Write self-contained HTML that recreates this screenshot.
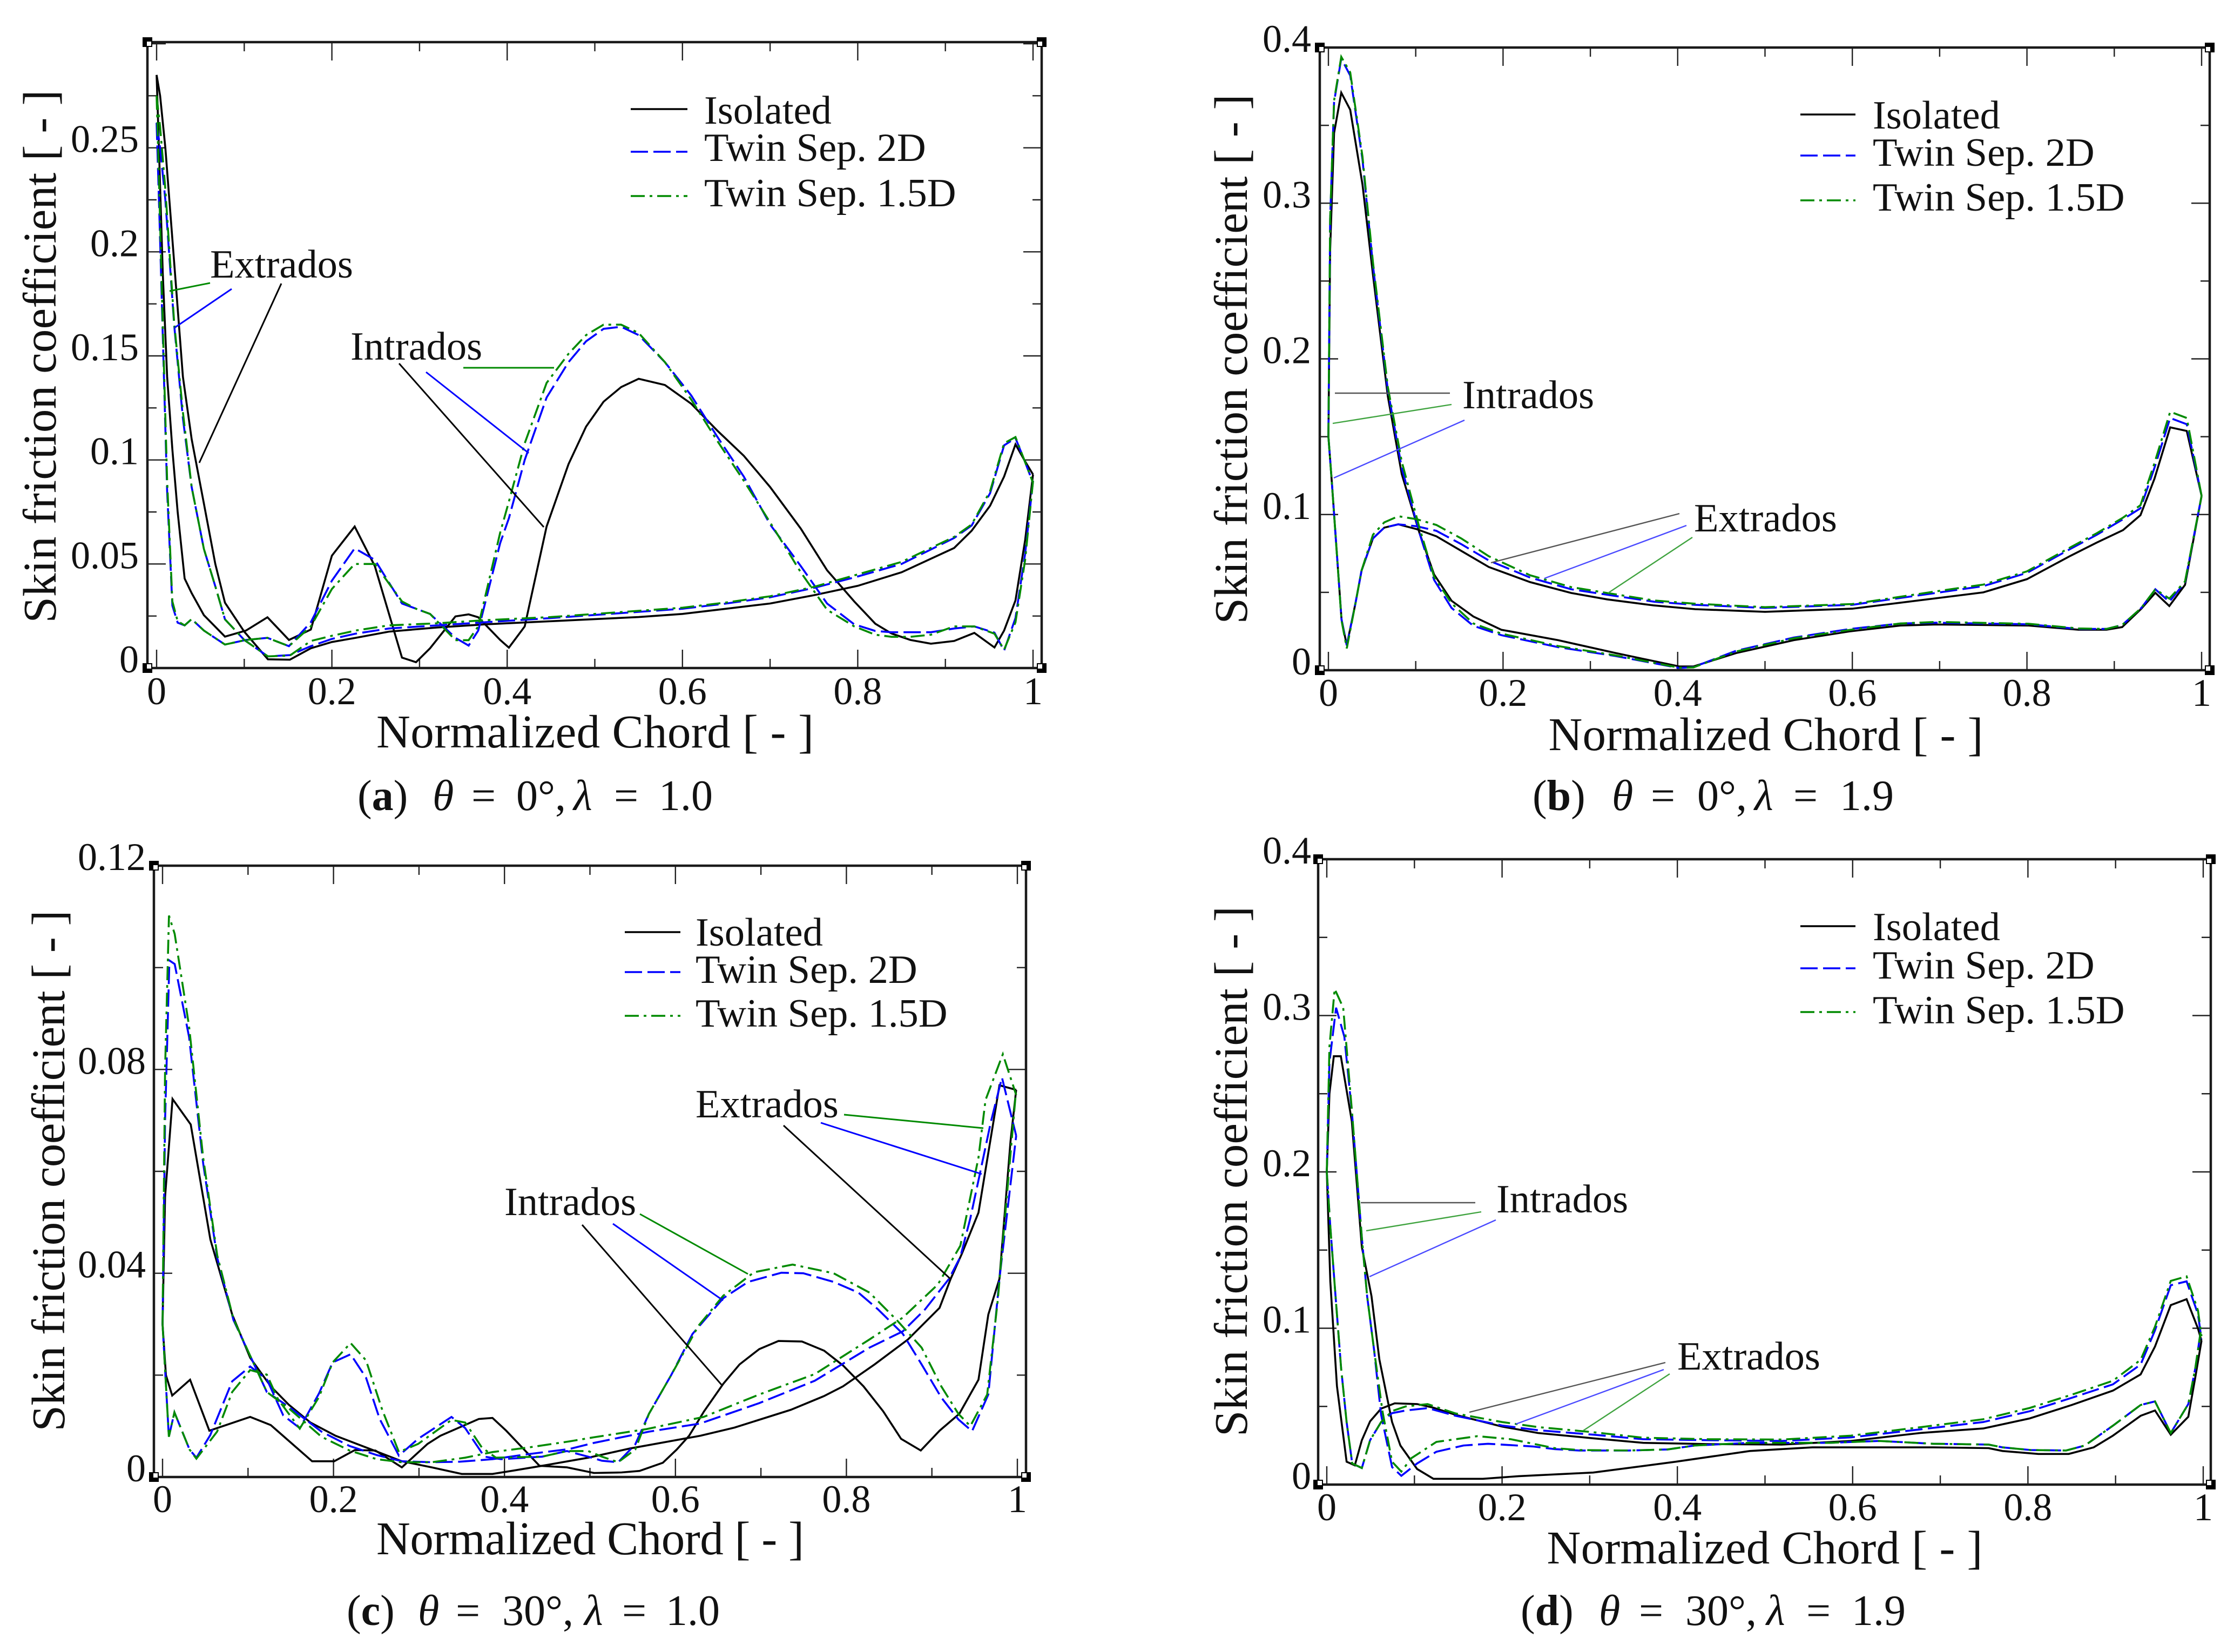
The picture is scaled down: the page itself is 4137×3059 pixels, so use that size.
<!DOCTYPE html>
<html lang="en">
<head>
<meta charset="utf-8">
<title>Skin friction coefficient charts</title>
<style>
html,body{margin:0;padding:0;background:#fff;}
svg{display:block;}
text{font-family:"Liberation Serif","DejaVu Serif",serif;fill:#111;}
.lg{font-size:74.5px;}
.ax{font-size:87px;}
.cap{font-size:80px;}
.iso{stroke:#000;stroke-width:3.6;fill:none;}
.two{stroke:#0000ff;stroke-width:3.6;fill:none;stroke-dasharray:32 10;}
.one{stroke:#008a00;stroke-width:3.6;fill:none;stroke-dasharray:26 9 5 9;}
</style>
</head>
<body>
<svg id="chart" xmlns="http://www.w3.org/2000/svg" width="4137" height="3059" viewBox="0 0 4137 3059">
<rect width="4137" height="3059" fill="#fff"/>

<g id="panel-a">
<g id="plot-a"></g>
<text class="ax" x="1102" y="1384" text-anchor="middle" textLength="810">Normalized Chord [ - ]</text>
<text class="ax" transform="translate(103,660) rotate(-90)" text-anchor="middle" textLength="987">Skin friction coefficient [ - ]</text>
<line class="iso" x1="1168" y1="202" x2="1273" y2="202"/>
<line class="two" x1="1168" y1="281" x2="1273" y2="281"/>
<line class="one" x1="1168" y1="363" x2="1273" y2="363"/>
<text class="lg" x="1304" y="229">Isolated</text>
<text class="lg" x="1304" y="298">Twin Sep. 2D</text>
<text class="lg" x="1304" y="382">Twin Sep. 1.5D</text>
<text class="lg" x="389" y="514">Extrados</text>
<text class="lg" x="649" y="666">Intrados</text>
<g fill="none" stroke-width="3">
<line stroke="#008a00" x1="314" y1="539" x2="389" y2="524"/>
<line stroke="#0000ff" x1="323" y1="607" x2="429" y2="535"/>
<line stroke="#000" x1="369" y1="857" x2="521" y2="525"/>
<line stroke="#008a00" x1="858" y1="681" x2="1026" y2="681"/>
<line stroke="#0000ff" x1="789" y1="689" x2="979" y2="839"/>
<line stroke="#000" x1="739" y1="673" x2="1007" y2="976"/>
</g>
<text class="cap" y="1500"><tspan x="662">(</tspan><tspan font-weight="bold">a</tspan>)<tspan x="801" font-style="italic">θ</tspan><tspan x="873">=</tspan><tspan x="956">0°,</tspan><tspan x="1062" font-style="italic">λ</tspan><tspan x="1137">=</tspan><tspan x="1220">1.0</tspan></text>
</g>

<g id="panel-b">
<g id="plot-b"></g>
<text class="ax" x="3270" y="1389" text-anchor="middle" textLength="805">Normalized Chord [ - ]</text>
<text class="ax" transform="translate(2309,665) rotate(-90)" text-anchor="middle" textLength="981">Skin friction coefficient [ - ]</text>
<line class="iso" x1="3334" y1="212" x2="3436" y2="212"/>
<line class="two" x1="3334" y1="288" x2="3436" y2="288"/>
<line class="one" x1="3334" y1="371" x2="3436" y2="371"/>
<text class="lg" x="3468" y="238">Isolated</text>
<text class="lg" x="3468" y="307">Twin Sep. 2D</text>
<text class="lg" x="3468" y="390">Twin Sep. 1.5D</text>
<text class="lg" x="2708" y="756">Intrados</text>
<text class="lg" x="3137" y="984">Extrados</text>
<g fill="none" stroke-width="2.4">
<line stroke="#555" x1="2472" y1="728" x2="2685" y2="728"/>
<line stroke="#3fa33f" x1="2468" y1="784" x2="2688" y2="749"/>
<line stroke="#4a4aff" x1="2470" y1="885" x2="2712" y2="778"/>
<line stroke="#555" x1="2761" y1="1042" x2="3110" y2="951"/>
<line stroke="#4a4aff" x1="2860" y1="1071" x2="3123" y2="973"/>
<line stroke="#3fa33f" x1="2978" y1="1098" x2="3134" y2="995"/>
</g>
<text class="cap" y="1500"><tspan x="2838">(</tspan><tspan font-weight="bold">b</tspan>)<tspan x="2985" font-style="italic">θ</tspan><tspan x="3057">=</tspan><tspan x="3143">0°,</tspan><tspan x="3249" font-style="italic">λ</tspan><tspan x="3321">=</tspan><tspan x="3407">1.9</tspan></text>
</g>

<g id="panel-c">
<g id="plot-c"></g>
<text class="ax" x="1093" y="2878" text-anchor="middle" textLength="792">Normalized Chord [ - ]</text>
<text class="ax" transform="translate(119,2168) rotate(-90)" text-anchor="middle" textLength="965">Skin friction coefficient [ - ]</text>
<line class="iso" x1="1157" y1="1726" x2="1260" y2="1726"/>
<line class="two" x1="1157" y1="1800" x2="1260" y2="1800"/>
<line class="one" x1="1157" y1="1881" x2="1260" y2="1881"/>
<text class="lg" x="1288" y="1751">Isolated</text>
<text class="lg" x="1288" y="1820">Twin Sep. 2D</text>
<text class="lg" x="1288" y="1901">Twin Sep. 1.5D</text>
<text class="lg" x="1288" y="2069">Extrados</text>
<text class="lg" x="934" y="2250">Intrados</text>
<g fill="none" stroke-width="3">
<line stroke="#008a00" x1="1563" y1="2064" x2="1821" y2="2089"/>
<line stroke="#0000ff" x1="1520" y1="2079" x2="1818" y2="2174"/>
<line stroke="#000" x1="1451" y1="2084" x2="1761" y2="2369"/>
<line stroke="#008a00" x1="1185" y1="2248" x2="1385" y2="2359"/>
<line stroke="#0000ff" x1="1135" y1="2266" x2="1339" y2="2408"/>
<line stroke="#000" x1="1078" y1="2268" x2="1336" y2="2564"/>
</g>
<text class="cap" y="3009"><tspan x="642">(</tspan><tspan font-weight="bold">c</tspan>)<tspan x="774" font-style="italic">θ</tspan><tspan x="844">=</tspan><tspan x="930">30°,</tspan><tspan x="1082" font-style="italic">λ</tspan><tspan x="1152">=</tspan><tspan x="1233">1.0</tspan></text>
</g>

<g id="panel-d">
<g id="plot-d"></g>
<text class="ax" x="3268" y="2895" text-anchor="middle" textLength="807">Normalized Chord [ - ]</text>
<text class="ax" transform="translate(2309,2169) rotate(-90)" text-anchor="middle" textLength="982">Skin friction coefficient [ - ]</text>
<line class="iso" x1="3334" y1="1715" x2="3436" y2="1715"/>
<line class="two" x1="3334" y1="1793" x2="3436" y2="1793"/>
<line class="one" x1="3334" y1="1874" x2="3436" y2="1874"/>
<text class="lg" x="3468" y="1741">Isolated</text>
<text class="lg" x="3468" y="1812">Twin Sep. 2D</text>
<text class="lg" x="3468" y="1895">Twin Sep. 1.5D</text>
<text class="lg" x="2771" y="2245">Intrados</text>
<text class="lg" x="3106" y="2536">Extrados</text>
<g fill="none" stroke-width="2.4">
<line stroke="#555" x1="2520" y1="2227" x2="2732" y2="2227"/>
<line stroke="#3fa33f" x1="2530" y1="2279" x2="2743" y2="2244"/>
<line stroke="#4a4aff" x1="2536" y1="2364" x2="2770" y2="2259"/>
<line stroke="#555" x1="2721" y1="2615" x2="3084" y2="2523"/>
<line stroke="#4a4aff" x1="2807" y1="2637" x2="3081" y2="2536"/>
<line stroke="#3fa33f" x1="2932" y1="2649" x2="3092" y2="2544"/>
</g>
<text class="cap" y="3009"><tspan x="2816">(</tspan><tspan font-weight="bold">d</tspan>)<tspan x="2961" font-style="italic">θ</tspan><tspan x="3035">=</tspan><tspan x="3121">30°,</tspan><tspan x="3271" font-style="italic">λ</tspan><tspan x="3345">=</tspan><tspan x="3429">1.9</tspan></text>
</g>
</svg>

<script>
// Shared x axis
const xTickLabels = ['0','0.2','0.4','0.6','0.8','1'];
const xMinorValues = [0.1,0.3,0.5,0.7,0.9];

// Y axis ticks per panel
const aYTickLabels = ['0','0.05','0.1','0.15','0.2','0.25'];
const aYMajorExtra = [0.3];
const aYMinorValues = [0.025,0.075,0.125,0.175,0.225,0.275];
const bYTickLabels = ['0','0.1','0.2','0.3','0.4'];
const bYMajorExtra = [];
const bYMinorValues = [0.05,0.15,0.25,0.35];
const cYTickLabels = ['0','0.04','0.08','0.12'];
const cYMajorExtra = [];
const cYMinorValues = [0.02,0.06,0.1];
const dYTickLabels = ['0','0.1','0.2','0.3','0.4'];
const dYMajorExtra = [];
const dYMinorValues = [0.05,0.15,0.25,0.35];

// Panel (a) theta=0, lambda=1.0
const aIntX = [0,.003,.007,.012,.018,.024,.032,.04,.054,.078,.102,.1265,.151,.176,.2,.226,.249,.28,.296,.312,.341,.356,.367,.392,.402,.42,.445,.47,.49,.51,.53,.55,.58,.61,.64,.67,.7,.735,.765,.796,.82,.8385,.86,.8835,.91,.933,.956,.967,.98,.991,1];
const aIntIso = [.285,.245,.19,.14,.105,.075,.043,.036,.0254,.0151,.018,.0244,.0135,.0185,.054,.068,.049,.005,.0028,.0095,.0248,.0258,.0244,.0135,.0098,.02,.068,.098,.116,.128,.135,.139,.136,.127,.114,.102,.087,.067,.047,.032,.0213,.0166,.0135,.0117,.013,.0169,.0099,.018,.0325,.0615,.093];
const aIntTwo = [.262,.22,.16,.085,.03,.0218,.0205,.0235,.018,.0113,.0135,.0145,.0105,.022,.042,.0575,.052,.031,.0285,.026,.0145,.0108,.018,.06,.072,.1,.13,.147,.157,.163,.164,.16,.147,.131,.111,.092,.069,.049,.031,.021,.0178,.0172,.0172,.0172,.019,.02,.017,.0083,.024,.055,.09];
const aIntOne = [.275,.23,.165,.09,.032,.0225,.0205,.0235,.018,.0113,.0135,.0145,.0105,.02,.038,.05,.05,.032,.0285,.026,.0134,.0134,.02,.065,.08,.108,.137,.151,.16,.165,.165,.161,.147,.129,.109,.09,.07,.046,.028,.02,.016,.015,.015,.016,.02,.02,.0165,.0088,.022,.052,.09];
const aExtX = [0,.004,.01,.02,.03,.04,.054,.067,.078,.1,.127,.152,.176,.2,.227,.265,.32,.375,.45,.5,.55,.6,.65,.7,.75,.8,.85,.91,.93,.951,.967,.98,.99,1];
const aExtIso = [.285,.275,.25,.195,.14,.11,.079,.05,.0314,.0175,.0042,.004,.0095,.0125,.0145,.0175,.0195,.021,.0225,.0235,.0245,.026,.0285,.031,.035,.0395,.046,.0577,.066,.078,.092,.1075,.1,.093];
const aExtTwo = [.262,.25,.225,.165,.12,.087,.0572,.0393,.0234,.0135,.0056,.0062,.0105,.014,.0165,.019,.0205,.022,.024,.0255,.027,.0285,.031,.034,.0385,.044,.05,.0625,.0685,.084,.107,.1105,.1,.089];
const aExtOne = [.275,.26,.23,.166,.123,.087,.0572,.0393,.0234,.0135,.0056,.006,.013,.0155,.018,.0205,.0215,.023,.0245,.026,.0275,.029,.0315,.0345,.039,.045,.051,.063,.069,.085,.108,.111,.1,.089];

// Panel (b) theta=0, lambda=1.9
const bPeakX = [0,.002,.0065,.0147,.025,.039,.051,.068,.084,.104,.121,.141,.166,.198,.263,.329,.402,.418,.467,.533,.598,.655,.696,.802,.859,.891,.909,.931,.947,.963,.981,1];
const bPeakIso = [.15,.27,.345,.371,.36,.312,.254,.176,.126,.0886,.0615,.0446,.0345,.026,.0193,.011,.0024,.0024,.011,.0193,.025,.0287,.0294,.0287,.026,.026,.0277,.0395,.0497,.0412,.0548,.112];
const bPeakTwo = [.15,.29,.365,.393,.382,.328,.26,.18,.13,.0886,.058,.04,.0285,.0225,.0148,.0091,.0014,.002,.0125,.021,.0265,.03,.0305,.0295,.0265,.0265,.029,.04,.052,.044,.0565,.112];
const bPeakOne = [.15,.29,.366,.394,.384,.33,.262,.182,.134,.092,.06,.043,.03,.0235,.0155,.0095,.0016,.0018,.012,.0205,.026,.03,.031,.0298,.0268,.0265,.029,.04,.052,.046,.057,.112];
const bExtX = [0,.004,.01,.015,.021,.031,.038,.051,.064,.08,.101,.1237,.152,.1837,.231,.278,.319,.373,.42,.5,.6,.7,.75,.8,.85,.88,.91,.93,.946,.964,.983,1];
const bExtIso = [.15,.12,.0722,.0326,.016,.043,.064,.0847,.0916,.0937,.0906,.086,.0767,.0663,.0566,.0496,.0455,.0416,.0392,.0375,.0395,.0465,.05,.0585,.0735,.082,.09,.0996,.123,.156,.1537,.112];
const bExtTwo = [.15,.12,.0722,.0326,.016,.043,.064,.0847,.0916,.0937,.0925,.0895,.081,.0705,.0595,.052,.0485,.044,.042,.04,.042,.05,.054,.0625,.078,.087,.097,.104,.13,.162,.158,.112];
const bExtOne = [.15,.12,.072,.032,.014,.043,.064,.087,.095,.0989,.097,.0933,.0847,.0732,.061,.0534,.0496,.0448,.0427,.0405,.0425,.051,.055,.0635,.079,.088,.098,.106,.133,.166,.162,.112];

// Panel (c) theta=30, lambda=1.0
const cUpIsoX = [0,.003,.0117,.033,.056,.0815,.1025,.1266,.1476,.173,.2024,.2475,.28,.315,.35,.386,.412,.444,.498,.5466,.629,.669,.735,.774,.796,.833,.872,.909,.922,.935,.9545,.979,.9986];
const cUpIsoY = [.03,.055,.0742,.0692,.0466,.0319,.0234,.0178,.0142,.0107,.0081,.0052,.0031,.0019,.0006,.0006,.0013,.0022,.0038,.0056,.0081,.0097,.0132,.0159,.0178,.0221,.027,.0332,.0389,.0438,.0519,.0769,.076];
const cLowIsoX = [0,.004,.0113,.0322,.0548,.1025,.1266,.175,.2008,.225,.249,.28,.31,.325,.37,.386,.402,.441,.473,.5047,.537,.558,.5853,.6015,.616,.6335,.656,.675,.698,.7205,.748,.774,.796,.82,.843,.864,.887,.909,.932,.9545,.966,.979,.992,.9986];
const cLowIsoY = [.03,.02,.016,.0191,.0091,.0118,.0102,.0031,.0031,.0053,.0052,.0019,.0065,.0081,.0114,.0116,.0091,.0022,.0019,.0008,.0009,.0012,.0028,.0054,.0081,.0129,.0183,.0221,.0251,.0267,.0266,.0248,.0219,.0178,.0129,.0075,.0052,.0091,.0124,.0191,.0319,.0389,.0659,.076];
const cUpTwoX = [0,.003,.008,.0142,.031,.0475,.064,.083,.1025,.122,.1476,.186,.2187,.2507,.28,.315,.347,.386,.428,.476,.5047,.569,.629,.698,.763,.827,.866,.892,.92,.9333,.945,.956,.969,.982,.9986];
const cUpTwoY = [.03,.07,.1014,.1007,.0864,.0616,.043,.0308,.0238,.0167,.0138,.0089,.0061,.0043,.0031,.0029,.003,.0035,.0045,.0055,.0067,.0089,.0105,.0145,.0189,.0254,.0286,.0329,.0389,.0432,.0508,.0594,.0697,.0784,.067];
const cLowTwoX = [0,.0074,.0139,.0316,.0396,.0558,.0815,.1025,.122,.1412,.1605,.183,.199,.22,.238,.254,.2765,.299,.338,.354,.3765,.396,.444,.473,.498,.514,.533,.553,.569,.595,.62,.656,.685,.724,.7495,.785,.814,.837,.866,.888,.911,.931,.947,.966,.979,.9986];
const cLowTwoY = [.03,.0079,.0127,.0054,.0038,.0082,.0188,.0217,.0192,.0121,.0096,.0164,.0225,.0241,.0195,.0114,.0042,.0075,.0118,.0096,.004,.0035,.004,.0051,.004,.0032,.0029,.0064,.0124,.02,.0281,.0351,.0383,.0401,.04,.0383,.0362,.0329,.0281,.0221,.0156,.0113,.009,.0162,.0389,.067];
const cUpOneX = [0,.003,.0075,.0142,.031,.0475,.064,.083,.1025,.122,.1476,.186,.2187,.2507,.28,.315,.354,.386,.428,.476,.5047,.566,.633,.698,.763,.827,.866,.907,.9333,.9545,.9627,.983,.9986];
const cUpOneY = [.03,.08,.1102,.1066,.0885,.0627,.0435,.031,.0238,.0167,.0135,.0079,.0052,.0035,.0029,.0029,.0038,.0049,.0058,.007,.0078,.0094,.0118,.0162,.0202,.027,.0313,.0378,.0454,.0627,.074,.083,.075];
const cLowOneX = [0,.0074,.0139,.0316,.0396,.0638,.0815,.1025,.122,.135,.1605,.183,.199,.22,.238,.257,.2765,.299,.338,.354,.3735,.39,.444,.473,.498,.514,.533,.553,.569,.595,.627,.656,.692,.737,.785,.827,.859,.888,.911,.931,.945,.9647,.977,.998];
const cLowOneY = [.03,.0079,.0127,.0054,.0036,.0089,.0167,.021,.0201,.0153,.0095,.0157,.0225,.0263,.0229,.0132,.0049,.0065,.0112,.0107,.0058,.0038,.004,.0051,.0051,.004,.0029,.0054,.0124,.02,.0297,.0356,.0402,.0417,.04,.0362,.0308,.0254,.0178,.0124,.01,.0162,.0346,.075];

// Panel (d) theta=30, lambda=1.9
const dPeakIsoX = [0,.003,.008,.016,.0285,.04,.051,.06,.0745,.084,.103,.1217,.178,.219,.304,.398,.4826,.5193,.554,.692,.755,.771,.812,.8465,.875,.897,.9286,.945,.963,.983,.991,.998];
const dPeakIsoY = [.2,.25,.274,.274,.2325,.152,.1205,.08,.04,.025,.01,.0037,.0037,.0054,.0077,.0146,.0215,.0227,.0238,.0238,.0233,.0215,.0196,.0196,.0238,.0313,.044,.0474,.0319,.0434,.0687,.092];
const dPeakTwoX = [0,.003,.0106,.02,.0285,.04,.046,.054,.062,.0745,.085,.103,.125,.156,.184,.235,.26,.288,.345,.389,.42,.4826,.5728,.63,.692,.755,.771,.803,.8435,.865,.897,.9286,.945,.963,.983,.991,.997];
const dPeakTwoY = [.2,.27,.305,.2865,.239,.158,.1205,.086,.0446,.0112,.0056,.0135,.021,.025,.0261,.0244,.0227,.0218,.0218,.0225,.025,.0267,.0267,.0279,.0261,.0256,.0238,.0221,.0218,.025,.0377,.0509,.0532,.033,.0515,.0745,.0975];
const dPeakOneX = [0,.003,.009,.0187,.0285,.04,.046,.054,.0635,.0745,.085,.0965,.125,.172,.21,.26,.288,.345,.389,.42,.4826,.5728,.63,.692,.755,.771,.803,.8435,.865,.897,.9286,.945,.963,.983,.991,.997];
const dPeakOneY = [.2,.28,.317,.305,.24,.158,.1205,.086,.0469,.0146,.0083,.0169,.0273,.031,.029,.0233,.0221,.0218,.0225,.025,.0267,.0267,.0279,.0261,.0256,.0238,.0221,.0218,.025,.0377,.0509,.0532,.033,.0515,.0745,.0975];
const dExtIsoX = [0,.004,.0116,.0226,.032,.04,.0494,.062,.0776,.103,.1217,.147,.2,.241,.304,.361,.436,.5193,.598,.677,.749,.802,.85,.897,.9286,.945,.963,.981,.994,.998];
const dExtIsoY = [.2,.13,.063,.0146,.0123,.0284,.0405,.0486,.052,.0515,.0492,.0446,.0371,.033,.0296,.0267,.0259,.0256,.0279,.033,.0359,.0423,.0509,.0601,.0705,.0883,.1148,.1186,.0998,.092];
const dExtTwinX = [0,.004,.01,.0163,.0226,.029,.04,.0494,.062,.0745,.09,.115,.147,.2,.241,.304,.361,.436,.5193,.598,.677,.749,.802,.85,.897,.9286,.945,.963,.981,.994,.998];
const dExtTwoY = [.2,.165,.1205,.0745,.04,.0135,.0106,.0284,.04,.0457,.0474,.0489,.044,.0378,.0348,.0319,.029,.0284,.0279,.0302,.0353,.04,.0469,.0555,.0641,.0768,.0987,.1275,.13,.109,.093];
const dExtOneY = [.2,.165,.1205,.0745,.04,.0135,.0106,.0284,.04,.047,.05,.0515,.0455,.04,.0368,.0335,.03,.029,.0288,.0313,.0367,.0418,.049,.0575,.0664,.0798,.101,.1303,.1332,.1113,.095];

// Axis geometry (pixels) and references to the data arrays
const panels = [
  {id:'a', x0:290, x1:1913, yBase:1237, yMax:0.3, yMaxPx:81, left:273, right:1929, top:78, bottom:1237, labelRight:257, xLabelBase:1304,
   labels:aYTickLabels, majorExtra:aYMajorExtra, minor:aYMinorValues,
   curves:[['iso','intrados',aIntX,aIntIso],['iso','extrados',aExtX,aExtIso],['two','intrados',aIntX,aIntTwo],['two','extrados',aExtX,aExtTwo],['one','intrados',aIntX,aIntOne],['one','extrados',aExtX,aExtOne]]},
  {id:'b', x0:2460, x1:4077, yBase:1241, yMax:0.4, yMaxPx:88, left:2444, right:4092, top:88, bottom:1241, labelRight:2428, xLabelBase:1307,
   labels:bYTickLabels, majorExtra:bYMajorExtra, minor:bYMinorValues,
   curves:[['iso','intrados',bPeakX,bPeakIso],['iso','extrados',bExtX,bExtIso],['two','intrados',bPeakX,bPeakTwo],['two','extrados',bExtX,bExtTwo],['one','intrados',bPeakX,bPeakOne],['one','extrados',bExtX,bExtOne]]},
  {id:'c', x0:301, x1:1884, yBase:2735, yMax:0.12, yMaxPx:1603, left:285, right:1900, top:1603, bottom:2735, labelRight:270, xLabelBase:2800,
   labels:cYTickLabels, majorExtra:cYMajorExtra, minor:cYMinorValues,
   curves:[['iso','extrados',cUpIsoX,cUpIsoY],['iso','intrados',cLowIsoX,cLowIsoY],['two','extrados',cUpTwoX,cUpTwoY],['two','intrados',cLowTwoX,cLowTwoY],['one','extrados',cUpOneX,cUpOneY],['one','intrados',cLowOneX,cLowOneY]]},
  {id:'d', x0:2457, x1:4080, yBase:2749, yMax:0.4, yMaxPx:1591, left:2441, right:4094, top:1591, bottom:2749, labelRight:2428, xLabelBase:2815,
   labels:dYTickLabels, majorExtra:dYMajorExtra, minor:dYMinorValues,
   curves:[['iso','intrados',dPeakIsoX,dPeakIsoY],['iso','extrados',dExtIsoX,dExtIsoY],['two','intrados',dPeakTwoX,dPeakTwoY],['two','extrados',dExtTwinX,dExtTwoY],['one','intrados',dPeakOneX,dPeakOneY],['one','extrados',dExtTwinX,dExtOneY]]}
];

const NS = 'http://www.w3.org/2000/svg';
function make(tag, attrs, parent) {
  const n = document.createElementNS(NS, tag);
  for (const k in attrs) n.setAttribute(k, attrs[k]);
  parent.appendChild(n);
  return n;
}
function scaleX(p, v) { return p.x0 + (p.x1 - p.x0) * v; }
function scaleY(p, v) { return p.yBase - (p.yBase - p.yMaxPx) * v / p.yMax; }

const MAJOR = 34, MINOR = 17, TICK_COLOR = '#222', TICK_W = 2.4;

function drawTick(g, x1, y1, x2, y2) {
  const t = make('line', {x1:x1, y1:y1, x2:x2, y2:y2, stroke:TICK_COLOR, 'stroke-width':TICK_W}, g);
  
  
}

panels.forEach(function (p) {
  const g = document.getElementById('plot-' + p.id);

  // x ticks (top and bottom)
  xTickLabels.forEach(function (lab) {
    const px = scaleX(p, parseFloat(lab));
    drawTick(g, px, p.bottom, px, p.bottom - MAJOR);
    drawTick(g, px, p.top, px, p.top + MAJOR);
    const t = make('text', {x:px, y:p.xLabelBase, 'text-anchor':'middle', 'font-size':72}, g);
    t.textContent = lab;
    
    
  });
  xMinorValues.forEach(function (v) {
    const px = scaleX(p, v);
    drawTick(g, px, p.bottom, px, p.bottom - MINOR);
    drawTick(g, px, p.top, px, p.top + MINOR);
  });

  // y ticks (left and right)
  p.labels.forEach(function (lab) {
    const py = scaleY(p, parseFloat(lab));
    drawTick(g, p.left, py, p.left + MAJOR, py);
    drawTick(g, p.right, py, p.right - MAJOR, py);
    const t = make('text', {x:p.labelRight, y:py + 8, 'text-anchor':'end', 'font-size':72}, g);
    t.textContent = lab;
    
    
  });
  p.majorExtra.forEach(function (v) {
    const py = scaleY(p, v);
    drawTick(g, p.left, py, p.left + MAJOR, py);
    drawTick(g, p.right, py, p.right - MAJOR, py);
  });
  p.minor.forEach(function (v) {
    const py = scaleY(p, v);
    drawTick(g, p.left, py, p.left + MINOR, py);
    drawTick(g, p.right, py, p.right - MINOR, py);
  });

  // Curves
  p.curves.forEach(function (c) {
    const xs = c[2], ys = c[3];
    let d = '';
    xs.forEach(function (x, i) {
      d += (i ? 'L' : 'M') + scaleX(p, x).toFixed(1) + ' ' + scaleY(p, ys[i]).toFixed(1);
    });
    const path = make('path', {d:d, 'stroke-linejoin':'miter'}, g);
    path.setAttribute('class', c[0]);
    
    
  });

  // Frame
  const frame = make('rect', {x:p.left, y:p.top, width:p.right - p.left, height:p.bottom - p.top, fill:'none', stroke:'#1a1a1a', 'stroke-width':4.5}, g);
  
  

  // Corner handles
  [[p.left, p.top, 1, 1], [p.right, p.top, -1, 1], [p.left, p.bottom, 1, -1], [p.right, p.bottom, -1, -1]].forEach(function (k) {
    const b = make('rect', {x:k[0] - 9, y:k[1] - 9, width:18, height:18, fill:'#000'}, g);
    
    
    const w = make('rect', {x:k[0] - 4 + 3 * k[2], y:k[1] - 4 + 3 * k[3], width:8, height:8, fill:'#fff'}, g);
    
    
  });
});
</script>
</body>
</html>
